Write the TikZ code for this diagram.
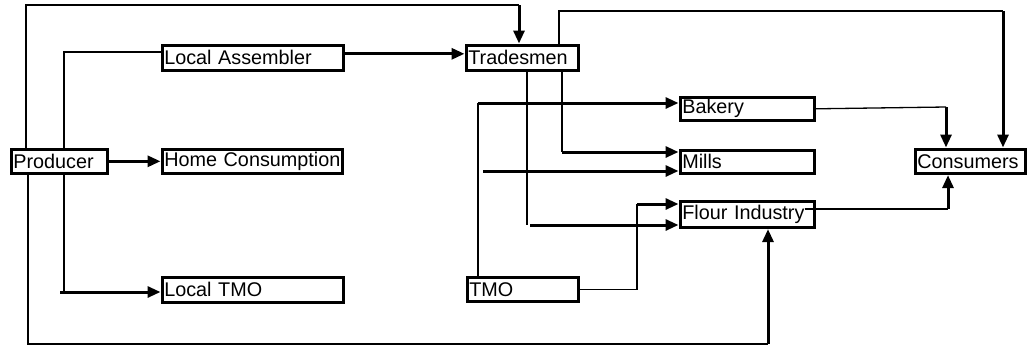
\documentclass[tikz,border=0pt]{standalone}
\usepackage{fontspec}
\setmainfont{Liberation Sans}
\usetikzlibrary{arrows.meta}
\tikzset{
  box/.style={draw, line width=3.6pt, anchor=north west, inner xsep=2pt, inner ysep=0pt,
    align=left, font=\fontsize{19.8}{22}\selectfont},
  thinline/.style={line width=1.3pt},
  thickarrow/.style={line width=3pt, -{Triangle[length=13pt,width=11pt]}},
  thickline/.style={line width=3pt}
}
\begin{document}
\begin{tikzpicture}[x=1pt,y=-1pt]
\useasboundingbox (0,0) rectangle (1027,346);
% boxes
\node[box, minimum width=96pt, minimum height=24pt, text width=92pt] (prod) at (9.5,147.5) {\mbox{Producer}};
\node[box, minimum width=180pt, minimum height=24pt, text width=176pt] (home) at (160.5,147.5) {\mbox{Home Consumption}};
\node[box, minimum width=181pt, minimum height=25pt, text width=177pt] (la) at (160.5,43.5) {\mbox{Local Assembler}};
\node[box, minimum width=181pt, minimum height=25pt, text width=177pt] (ltmo) at (160.5,275.5) {\mbox{Local TMO}};
\node[box, minimum width=112pt, minimum height=25pt, text width=108pt] (trd) at (464.5,43.5) {\mbox{Tradesmen}};
\node[box, minimum width=111pt, minimum height=24pt, text width=107pt] (tmo) at (465.5,275.5) {\mbox{TMO}};
\node[box, minimum width=134pt, minimum height=23pt, text width=130pt] (bak) at (678.5,95.5) {\mbox{Bakery}};
\node[box, minimum width=134pt, minimum height=23pt, text width=130pt] (mil) at (678.5,148.5) {\mbox{Mills}};
\node[box, minimum width=134pt, minimum height=26pt, text width=130pt] (flo) at (678.5,199.5) {\mbox{Flour Industry}};
\node[box, minimum width=110pt, minimum height=24pt, text width=106pt] (con) at (913.5,147.5) {\mbox{Consumers}};
% coordinates
\coordinate (tl) at (26,5);
\coordinate (tr) at (519,5);
\coordinate (bl) at (28,344);
\coordinate (br) at (768,344);
\coordinate (pa) at (64,52);
\coordinate (pt) at (64,292);
\coordinate (tt) at (559,11);
\coordinate (tc) at (1003,11);
\coordinate (tf) at (527,225);
\coordinate (tm) at (562,152);
\coordinate (tb) at (478,103);
\coordinate (ms) at (483,171);
\coordinate (tq) at (637,204);
\coordinate (bc) at (946,107);
\coordinate (fc) at (948,209);
% producer connections
\draw[thinline] (tl |- prod.north) -- (tl) -- (tr);
\draw[thickarrow] (tr) -- (tr |- trd.north);
\draw[thinline] (bl |- prod.south) -- (bl) -- (br);
\draw[thickarrow] (br) -- (br |- flo.south);
\draw[thinline] (pa |- prod.north) -- (pa) -- (pa -| la.west);
\draw[thinline] (pt |- prod.south) -- (pt);
\draw[thickarrow] ([xshift=-4pt]pt) -- (pt -| ltmo.west);
\draw[thickarrow] (prod.east) -- (home.west);
\draw[thickarrow] ([yshift=4pt]la.east) -- ([yshift=4pt]trd.west);
% tradesmen
\draw[thinline] (tt |- trd.north) -- (tt) -- (tc);
\draw[thickarrow] (tc) -- (tc |- con.north);
\draw[thinline] (tf |- trd.south) -- (tf);
\draw[thickarrow] ([xshift=3pt]tf) -- (tf -| flo.west);
\draw[thinline] (tm |- trd.south) -- (tm);
\draw[thickarrow] (tm) -- (tm -| mil.west);
% TMO
\draw[thinline] (tb |- tmo.north) -- (tb);
\draw[thickarrow] (tb) -- (tb -| bak.west);
\draw[thickarrow] (ms) -- (ms -| mil.west);
\draw[thinline] (tmo.east) -| (tq);
\draw[thickarrow] (tq) -- (tq -| flo.west);
% to consumers
\draw[thinline] (bak.east) -- (bc);
\draw[thickarrow] (bc) -- (bc |- con.north);
\path (flo.east |- fc) ++(-11,0) coordinate (fs);
\draw[thinline] (fs) -- (fc);
\draw[thickarrow] (fc) -- (fc |- con.south);
\end{tikzpicture}
\end{document}
